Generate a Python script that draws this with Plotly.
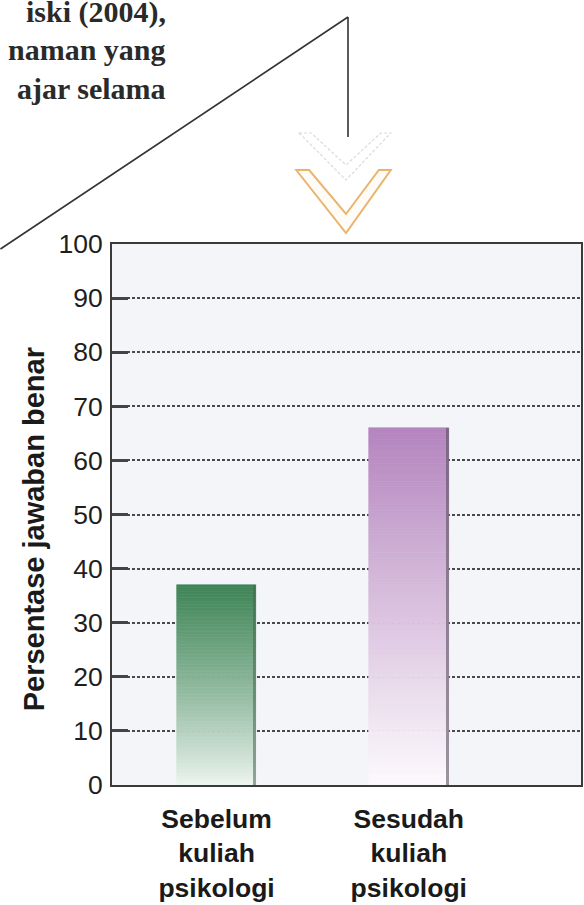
import plotly.graph_objects as go

# ---- data ----
categories = ["Sebelum<br>kuliah<br>psikologi", "Sesudah<br>kuliah<br>psikologi"]
values = [37, 66]
y_ticks = [0, 10, 20, 30, 40, 50, 60, 70, 80, 90, 100]
y_title = "Persentase jawaban benar"
page_lines = ["iski (2004),", "naman yang", "ajar selama"]

# ---- style ----
W, H = 584, 905
L, R, T, B = 112, 1, 244, 120
PW, PH = W - L - R, H - T - B
bar_width = 0.415
green_top, green_bot = (62, 132, 86), (240, 247, 242)
purple_top, purple_bot = (180, 132, 190), (252, 249, 252)
gammas = [0.85, 1.05]


def X(px):
    return (px - L) / PW


def Y(py):
    return (H - B - py) / PH


def mix(c1, c2, t):
    return "rgb(%d,%d,%d)" % tuple(round(a + (b - a) * t) for a, b in zip(c1, c2))


fig = go.Figure()

N = 60
tops = [green_top, purple_top]
bots = [green_bot, purple_bot]
for i in range(N):
    t = (i + 0.5) / N
    cols = [mix(bots[k], tops[k], t ** gammas[k]) for k in range(len(values))]
    fig.add_trace(go.Bar(
        x=categories,
        y=[v / N for v in values],
        base=[v * i / N for v in values],
        width=bar_width,
        marker=dict(color=cols, line=dict(color=cols, width=0.6)),
        showlegend=False, hoverinfo="skip",
    ))

# right-edge shadow of bars
fig.add_trace(go.Bar(
    x=categories, y=values, width=0.016, offset=bar_width / 2 - 0.016,
    marker=dict(color=["rgba(70,100,80,0.55)", "rgba(90,80,95,0.6)"], line=dict(width=0)),
    showlegend=False, hoverinfo="skip",
))

fig.update_layout(
    width=W, height=H,
    margin=dict(l=L, r=R, t=T, b=B),
    paper_bgcolor="white",
    plot_bgcolor="#f3f5f8",
    barmode="overlay",
    bargap=0,
    showlegend=False,
    font=dict(family="Liberation Sans, Arial, sans-serif", color="#1e1e1e"),
)

fig.update_xaxes(
    type="category",
    range=[-0.544, 1.896],
    showline=True, linecolor="#3a3a3a", linewidth=2, mirror=True,
    showgrid=False, ticks="",
    tickfont=dict(size=26.5, family="Liberation Sans, Arial, sans-serif", color="#1a1a1a", weight="bold"),
    ticklabelstandoff=9,
)

fig.update_yaxes(
    range=[0, 100],
    tickvals=y_ticks,
    showline=True, linecolor="#3a3a3a", linewidth=2, mirror=True,
    showgrid=True, gridcolor="#4a4a4a", gridwidth=1.6, griddash="3px,2px",
    zeroline=False,
    ticks="inside", ticklen=16, tickwidth=3, tickcolor="#444444",
    tickfont=dict(size=26.5, family="Liberation Sans, Arial, sans-serif", color="#1e1e1e"),
    ticklabelstandoff=2,
)

# y-axis title
fig.add_annotation(
    text="<b>" + y_title + "</b>", textangle=-90,
    xref="paper", yref="paper", x=X(34), y=Y(529),
    xanchor="center", yanchor="middle", showarrow=False,
    font=dict(size=29, family="Liberation Sans, Arial, sans-serif", color="#1a1a1a"),
)

# book text fragment at the top left
for txt, py in zip(page_lines, [12, 50, 89]):
    fig.add_annotation(
        text=txt, xref="paper", yref="paper", x=X(168), y=Y(py),
        xanchor="right", yanchor="middle", showarrow=False,
        font=dict(size=30, family="Liberation Serif, Times New Roman, serif", color="#2a2a2a", weight="bold"),
    )

# connector lines
line_style = dict(color="#333333", width=1.6)
fig.add_shape(type="line", xref="paper", yref="paper",
              x0=X(0), y0=Y(249), x1=X(349), y1=Y(17), line=line_style)
fig.add_shape(type="line", xref="paper", yref="paper",
              x0=X(349), y0=Y(17), x1=X(349), y1=Y(137), line=line_style)


def path(pts):
    return "M " + " L ".join("%.5f,%.5f" % (X(a), Y(b)) for a, b in pts) + " Z"


# faded chevron
fig.add_shape(type="path", xref="paper", yref="paper",
              path=path([(300, 133), (347, 180), (392, 133), (382, 133), (347, 165), (312, 133)]),
              line=dict(color="rgba(190,180,180,0.5)", width=1.2, dash="3px,2px"), fillcolor="rgba(0,0,0,0)")
# orange chevron
fig.add_shape(type="path", xref="paper", yref="paper",
              path=path([(297, 170), (347, 233), (392, 170), (380, 170), (347, 214), (310, 170)]),
              line=dict(color="#e9b56e", width=2), fillcolor="rgba(255,250,240,0.5)")

fig.write_html("out.html")
